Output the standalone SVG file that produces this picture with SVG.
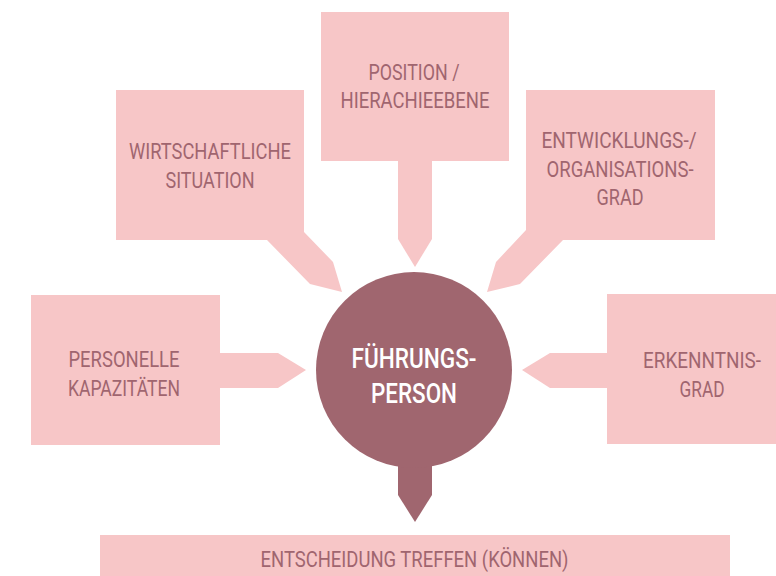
<svg xmlns="http://www.w3.org/2000/svg" width="776" height="576" viewBox="0 0 776 576">
<style>
.box{fill:#f7c6c7;}
.lbl{font-family:Roboto,"Liberation Sans",sans-serif;font-size:22px;fill:#a0656f;text-anchor:middle;}
.ctr{font-family:Roboto,"Liberation Sans",sans-serif;font-size:28px;font-weight:500;fill:#ffffff;text-anchor:middle;}
.hub{fill:#a0666f;}
</style>
<rect width="776" height="576" fill="#ffffff"/>
<g id="connectors">
<polygon class="box" points="304,232 333,262 342,292 310,284 267,240 304,240"/>
<polygon class="box" points="398,160 432,160 432,239 415,267 398,239"/>
<polygon class="box" points="526,230 496,262 487,292 520,284 563,240 526,240"/>
<polygon class="box" points="219,353 278,353 306,370 278,388 219,388"/>
<polygon class="box" points="608,353 550,353 522,370 550,388 608,388"/>
<polygon class="hub" points="398,460 432,460 432,495 415,522 398,495"/>
</g>
<g id="wirtschaft">
<rect class="box" x="116" y="90" width="188" height="150"/>
<text class="lbl" x="210" y="159" textLength="162" lengthAdjust="spacingAndGlyphs">WIRTSCHAFTLICHE</text>
<text class="lbl" x="210" y="188" textLength="89" lengthAdjust="spacingAndGlyphs">SITUATION</text>
</g>
<g id="position">
<rect class="box" x="321" y="12" width="188" height="149"/>
<text class="lbl" x="414" y="80" textLength="91" lengthAdjust="spacingAndGlyphs">POSITION /</text>
<text class="lbl" x="415" y="108" textLength="149" lengthAdjust="spacingAndGlyphs">HIERACHIEEBENE</text>
</g>
<g id="entwicklung">
<rect class="box" x="526" y="90" width="189" height="150"/>
<text class="lbl" x="619" y="148" textLength="155" lengthAdjust="spacingAndGlyphs">ENTWICKLUNGS-/</text>
<text class="lbl" x="620" y="177" textLength="147" lengthAdjust="spacingAndGlyphs">ORGANISATIONS-</text>
<text class="lbl" x="620" y="205" textLength="47" lengthAdjust="spacingAndGlyphs">GRAD</text>
</g>
<g id="personelle">
<rect class="box" x="31" y="295" width="189" height="150"/>
<text class="lbl" x="124" y="367" textLength="111" lengthAdjust="spacingAndGlyphs">PERSONELLE</text>
<text class="lbl" x="124" y="396" textLength="112" lengthAdjust="spacingAndGlyphs">KAPAZITÄTEN</text>
</g>
<g id="erkenntnis">
<rect class="box" x="607" y="294" width="169" height="150"/>
<text class="lbl" x="702" y="368" textLength="118" lengthAdjust="spacingAndGlyphs">ERKENNTNIS-</text>
<text class="lbl" x="702" y="397" textLength="45" lengthAdjust="spacingAndGlyphs">GRAD</text>
</g>
<g id="fuehrungsperson">
<circle class="hub" cx="414" cy="370" r="98"/>
<text class="ctr" x="414" y="368" textLength="125" lengthAdjust="spacingAndGlyphs">FÜHRUNGS-</text>
<text class="ctr" x="414" y="403" textLength="86" lengthAdjust="spacingAndGlyphs">PERSON</text>
</g>
<g id="entscheidung">
<rect class="box" x="100" y="535" width="630" height="41"/>
<text class="lbl" x="414.5" y="566.5" textLength="308" lengthAdjust="spacingAndGlyphs">ENTSCHEIDUNG TREFFEN (KÖNNEN)</text>
</g>
</svg>
